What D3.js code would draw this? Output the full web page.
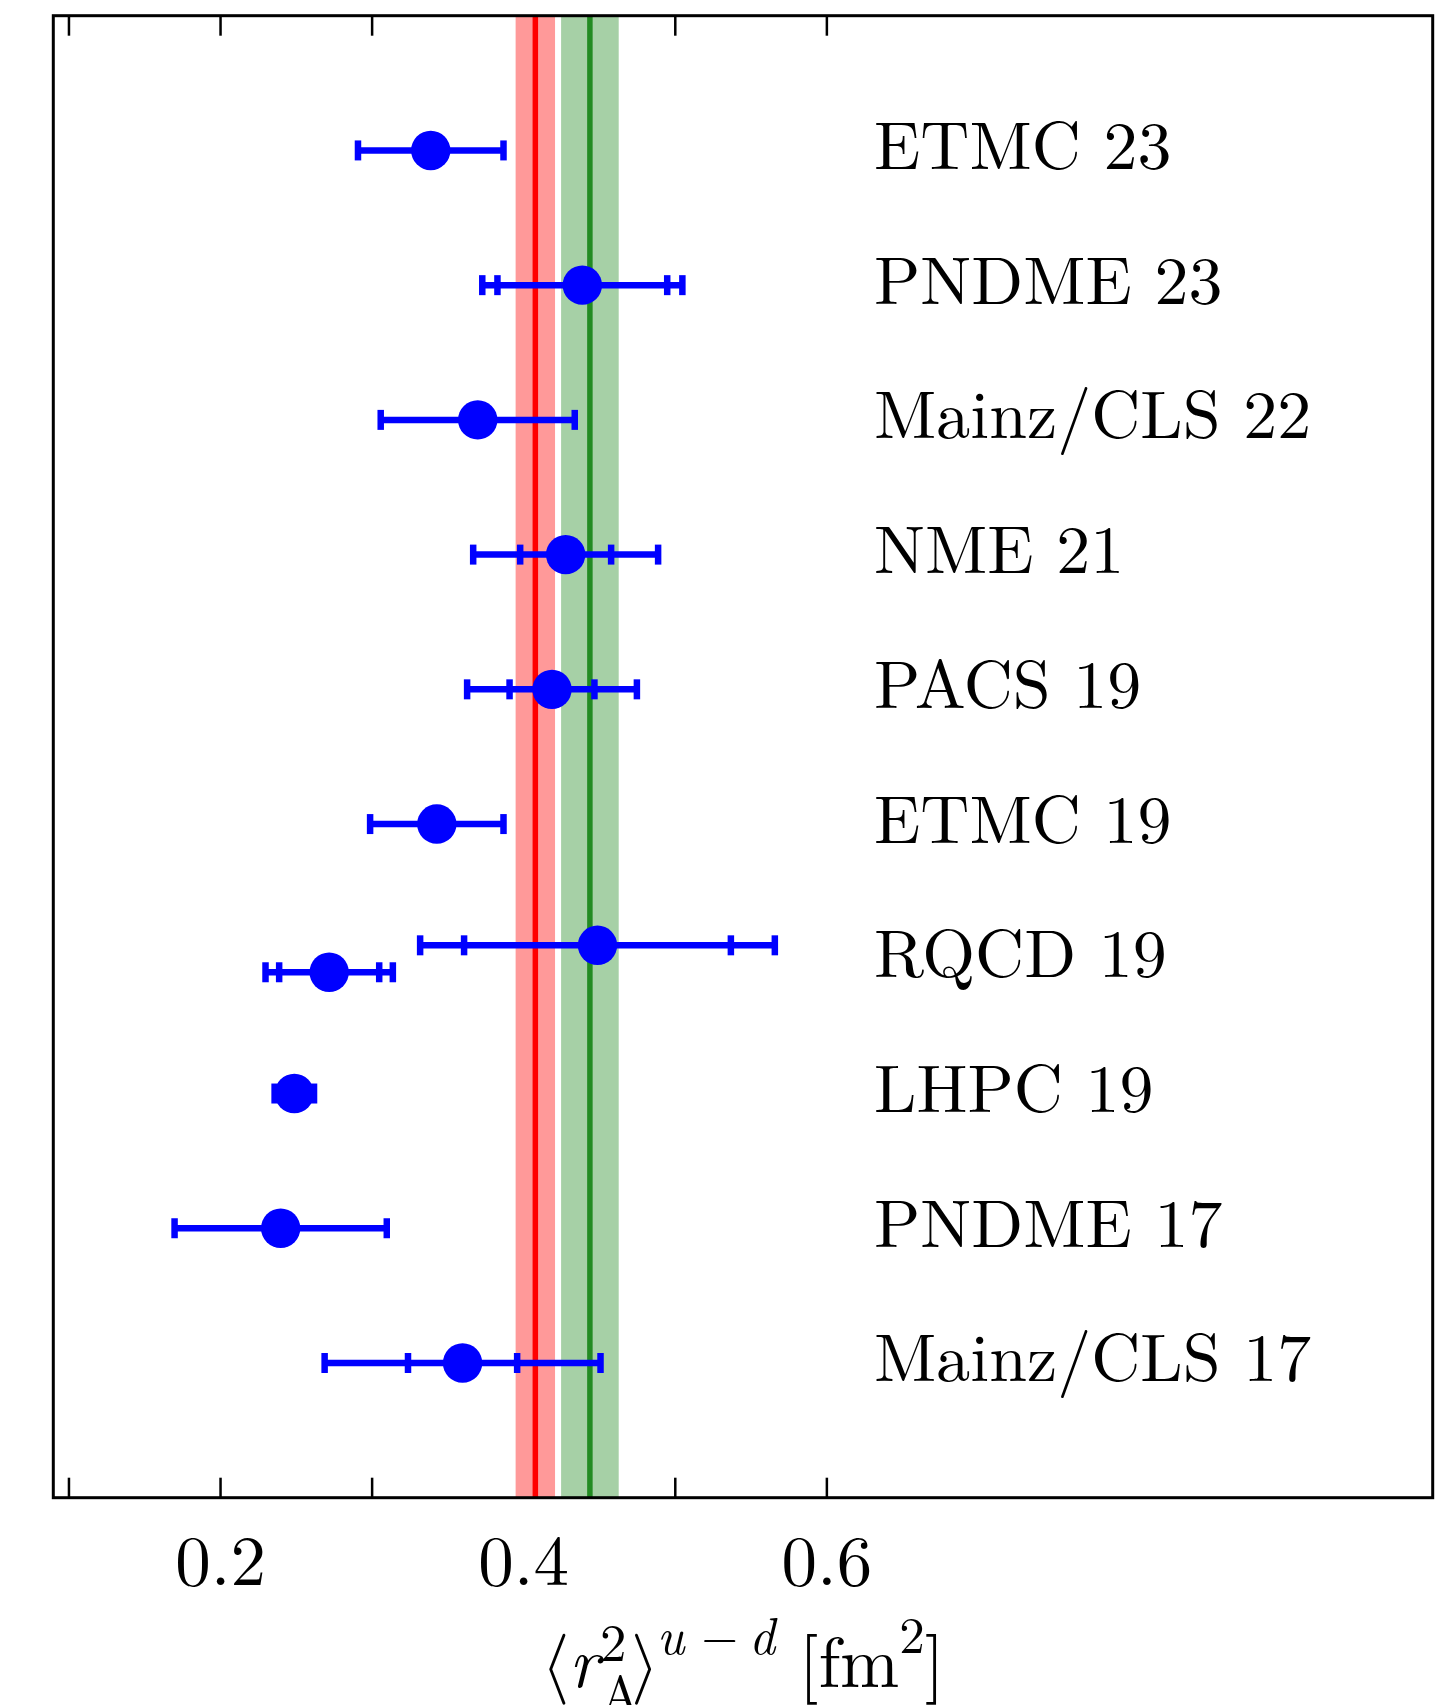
<!DOCTYPE html>
<html>
<head>
<meta charset="utf-8">
<script src="https://cdn.jsdelivr.net/npm/d3@7"></script>
<style>
  body { margin: 0; background: #fff; }
  svg { display: block; }
</style>
</head>
<body>
<div id="chart"></div>
<script>
// collaboration labels, top to bottom
const labels = ["ETMC 23", "PNDME 23", "Mainz/CLS 22", "NME 21", "PACS 19",
                "ETMC 19", "RQCD 19", "LHPC 19", "PNDME 17", "Mainz/CLS 17"];

// one entry per plotted point (RQCD 19 has two)
const pointRow    = [0, 1, 2, 3, 4, 5, 6, 6, 7, 8, 9];
const pointShift  = [0, 0, 0, 0, 0, 0, -0.1, 0.1, 0, 0, 0];
const pointValue  = [0.339, 0.439, 0.370, 0.428, 0.419, 0.343, 0.449, 0.272, 0.249, 0.240, 0.360];
const pointStat   = [null, 0.056, null, 0.030, 0.028, null, 0.088, 0.033, null, null, 0.036];
const pointTotal  = [0.048, 0.066, 0.064, 0.061, 0.056, 0.044, 0.117, 0.042, 0.013, 0.070, 0.091];

// average bands: [central value, half width]
const redBand   = [0.408, 0.013];
const greenBand = [0.444, 0.019];

// axis ticks
const tickValues = [0.1, 0.2, 0.3, 0.4, 0.5, 0.6];
const tickLabels = { 0.2: "0.2", 0.4: "0.4", 0.6: "0.6" };

const width = 1450, height = 1705;
const frame = { left: 53.3, right: 1432.7, top: 15.7, bottom: 1497.7 };
const serif = "Latin Modern Roman, Liberation Serif, serif";
const mathFont = "Latin Modern Math, Latin Modern Roman, DejaVu Serif, serif";

const x = d3.scaleLinear().domain([0.09, 1.0]).range([frame.left, frame.right]);
const y = d3.scaleLinear().domain([0, 11]).range([frame.top, frame.bottom]);

const svg = d3.select("#chart").append("svg")
    .attr("width", width)
    .attr("height", height);

svg.append("rect").attr("width", width).attr("height", height).attr("fill", "#fff");

// ticks (inward, top and bottom)
const bottomAxis = svg.append("g")
    .attr("transform", `translate(0,${frame.bottom})`)
    .call(d3.axisBottom(x).tickValues(tickValues).tickSize(-20)
        .tickFormat(d => tickLabels[d] || ""));
const topAxis = svg.append("g")
    .attr("transform", `translate(0,${frame.top})`)
    .call(d3.axisTop(x).tickValues(tickValues).tickSize(-20).tickFormat(""));

[bottomAxis, topAxis].forEach(g => {
    g.select(".domain").remove();
    g.attr("font-family", null).attr("font-size", null);
    g.selectAll(".tick line").attr("stroke", "#000").attr("stroke-width", 2.5);
});
bottomAxis.selectAll(".tick text")
    .attr("y", 87).attr("dy", null)
    .attr("fill", "#000")
    .attr("font-family", serif)
    .attr("font-size", 71);

// bands
function band(b, fill, line) {
    svg.append("rect")
        .attr("x", x(b[0] - b[1]))
        .attr("y", frame.top)
        .attr("width", x(b[0] + b[1]) - x(b[0] - b[1]))
        .attr("height", frame.bottom - frame.top)
        .attr("fill", fill);
    svg.append("line")
        .attr("x1", x(b[0])).attr("x2", x(b[0]))
        .attr("y1", frame.top).attr("y2", frame.bottom)
        .attr("stroke", line).attr("stroke-width", 5.5);
}
band(redBand, "#ff9999", "#ff0000");
band(greenBand, "#a6d0a6", "#228b22");

// error bars and points
const points = pointValue.map((v, i) => ({
    v: v, cy: y(pointRow[i] + 1 + pointShift[i]),
    stat: pointStat[i], tot: pointTotal[i]
}));

const pg = svg.append("g");
points.forEach(p => {
    pg.append("line")
        .attr("x1", x(p.v - p.tot)).attr("x2", x(p.v + p.tot))
        .attr("y1", p.cy).attr("y2", p.cy)
        .attr("stroke", "blue").attr("stroke-width", 6.5);
    const caps = [p.v - p.tot, p.v + p.tot];
    if (p.stat !== null) caps.push(p.v - p.stat, p.v + p.stat);
    caps.forEach(c => {
        pg.append("line")
            .attr("x1", x(c)).attr("x2", x(c))
            .attr("y1", p.cy - 10).attr("y2", p.cy + 10)
            .attr("stroke", "blue").attr("stroke-width", 6.5);
    });
});
pg.selectAll("circle")
    .data(points)
    .enter()
    .append("circle")
    .attr("cx", d => x(d.v))
    .attr("cy", d => d.cy)
    .attr("r", 19.7)
    .attr("fill", "blue");

// collaboration names
svg.append("g").selectAll("text")
    .data(labels)
    .enter()
    .append("text")
    .attr("x", 874)
    .attr("y", (d, i) => y(i + 1) + 18.5)
    .attr("font-family", serif)
    .attr("font-size", 68)
    .attr("fill", "#000")
    .text(d => d);

// frame
svg.append("rect")
    .attr("x", frame.left).attr("y", frame.top)
    .attr("width", frame.right - frame.left)
    .attr("height", frame.bottom - frame.top)
    .attr("fill", "none").attr("stroke", "#000").attr("stroke-width", 3);

// x-axis title
const xLabel = svg.append("text")
    .attr("x", (frame.left + frame.right) / 2)
    .attr("y", 1687)
    .attr("text-anchor", "middle")
    .attr("fill", "#000")
    .attr("font-family", serif)
    .attr("font-size", 71);
xLabel.append("tspan").attr("font-family", mathFont).text("\u27E8");
xLabel.append("tspan").attr("font-style", "italic").text("r");
xLabel.append("tspan").attr("dx", 1).attr("dy", -26).attr("font-size", 53).text("2");
xLabel.append("tspan").attr("dx", -26).attr("dy", 52).attr("font-size", 53).text("A");
xLabel.append("tspan").attr("dx", -9).attr("dy", -26).attr("font-family", mathFont).text("\u27E9");
xLabel.append("tspan").attr("dx", -2).attr("dy", -33).attr("font-style", "italic").attr("font-size", 51).text("u\u2005\u2212\u2005d");
xLabel.append("tspan").attr("dy", 33).text(" [fm");
xLabel.append("tspan").attr("dy", -34).attr("font-size", 51).text("2");
xLabel.append("tspan").attr("dy", 34).text("]");
</script>
</body>
</html>
